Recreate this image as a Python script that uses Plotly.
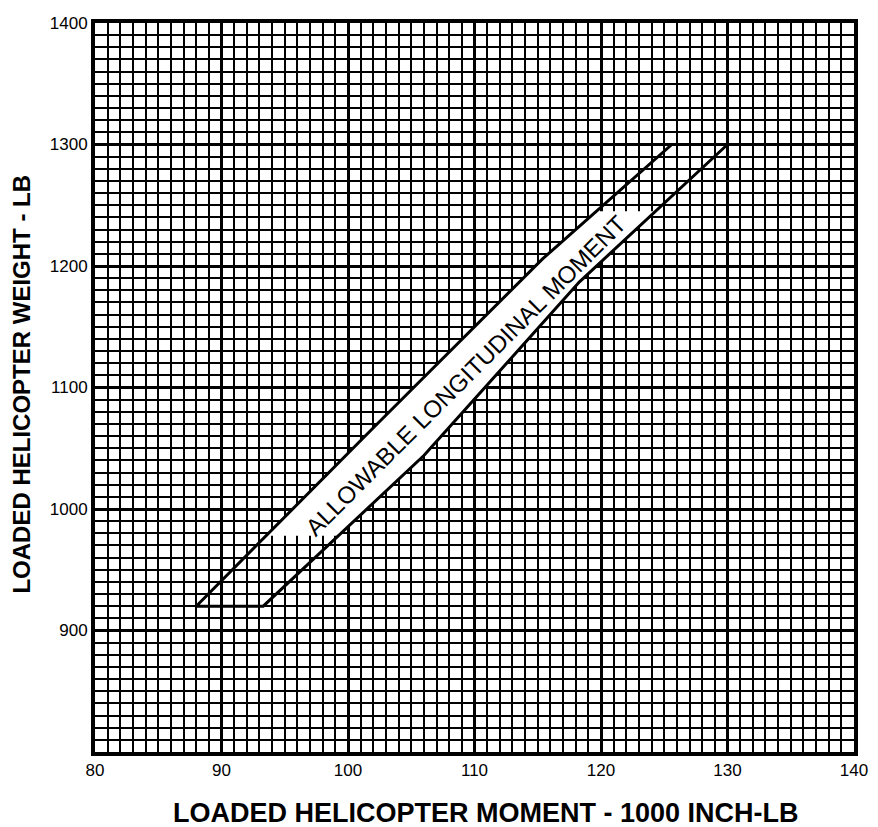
import numpy as np
import plotly.graph_objects as go

# Envelope boundary points (moment in 1000 inch-lb, weight in lb)
left_moment = [88.0, 102.3, 115.4, 125.6]
left_weight = [920, 1070, 1206, 1300]
right_moment = [93.3, 106.0, 118.3, 130.0]
right_weight = [920, 1044, 1187, 1300]

x_ticks = [80, 90, 100, 110, 120, 130, 140]
y_ticks = [900, 1000, 1100, 1200, 1300, 1400]

label_text = "ALLOWABLE LONGITUDINAL MOMENT"
label_weight_span = [978, 1245]   # weight range covered by the label's white halo

env_x = left_moment + right_moment[::-1] + [left_moment[0]]
env_y = left_weight + right_weight[::-1] + [left_weight[0]]

# white halo behind the label, bounded by the envelope lines
lo, hi = label_weight_span
lw = [lo] + [w for w in left_weight if lo < w < hi] + [hi]
rw = [lo] + [w for w in right_weight if lo < w < hi] + [hi]
lm = list(np.interp(lw, left_weight, left_moment))
rm = list(np.interp(rw, right_weight, right_moment))
mask_x = lm + rm[::-1] + [lm[0]]
mask_y = lw + rw[::-1] + [lw[0]]

fig = go.Figure()
fig.add_trace(go.Scatter(
    x=mask_x, y=mask_y, mode="lines", fill="toself",
    fillcolor="white", line=dict(color="white", width=0),
    hoverinfo="skip", showlegend=False,
))
fig.add_trace(go.Scatter(
    x=env_x, y=env_y, mode="lines",
    line=dict(color="black", width=3),
    hoverinfo="skip", showlegend=False,
))

font_fam = "Liberation Sans, Arial, Helvetica, sans-serif"

fig.update_xaxes(
    range=[80, 140], tickmode="array", tickvals=x_ticks,
    ticktext=[str(v) for v in x_ticks],
    showgrid=True, gridcolor="black", gridwidth=2.6,
    minor=dict(tickmode="linear", tick0=80, dtick=1, showgrid=True,
               gridcolor="black", gridwidth=1.5, ticks=""),
    showline=True, linecolor="black", linewidth=4, mirror=True,
    ticks="", zeroline=False, ticklabeloverflow="allow",
    tickfont=dict(family=font_fam, size=17, color="black"),
)
fig.update_yaxes(
    range=[800, 1400], tickmode="array", tickvals=y_ticks,
    ticktext=[str(v) for v in y_ticks],
    showgrid=True, gridcolor="black", gridwidth=2.6,
    minor=dict(tickmode="linear", tick0=800, dtick=10, showgrid=True,
               gridcolor="black", gridwidth=1.5, ticks=""),
    showline=True, linecolor="black", linewidth=4, mirror=True,
    ticks="", zeroline=False, ticklabeloverflow="allow",
    tickfont=dict(family=font_fam, size=17, color="black"),
)

fig.add_annotation(
    x=109.3, y=1110, xref="x", yref="y",
    text=label_text,
    textangle=-45, showarrow=False,
    font=dict(family=font_fam, size=24, color="black"),
)

fig.add_annotation(
    x=0.515, y=0, xref="paper", yref="paper",
    yanchor="middle", yshift=-61,
    text="<b>LOADED HELICOPTER MOMENT - 1000 INCH-LB</b>",
    showarrow=False,
    font=dict(family=font_fam, size=27, color="black"),
)
fig.add_annotation(
    x=0, y=0.504, xref="paper", yref="paper",
    xanchor="center", xshift=-73,
    text="<b>LOADED HELICOPTER WEIGHT - LB</b>",
    textangle=-90, showarrow=False,
    font=dict(family=font_fam, size=24, color="black"),
)

# page body adds an 8px margin; compensate so the plot lands where the reference has it
fig.update_layout(
    width=870, height=819,
    margin=dict(l=87, r=24, t=6, b=75),
    plot_bgcolor="white", paper_bgcolor="white",
    showlegend=False,
)

fig.write_html("out.html")
